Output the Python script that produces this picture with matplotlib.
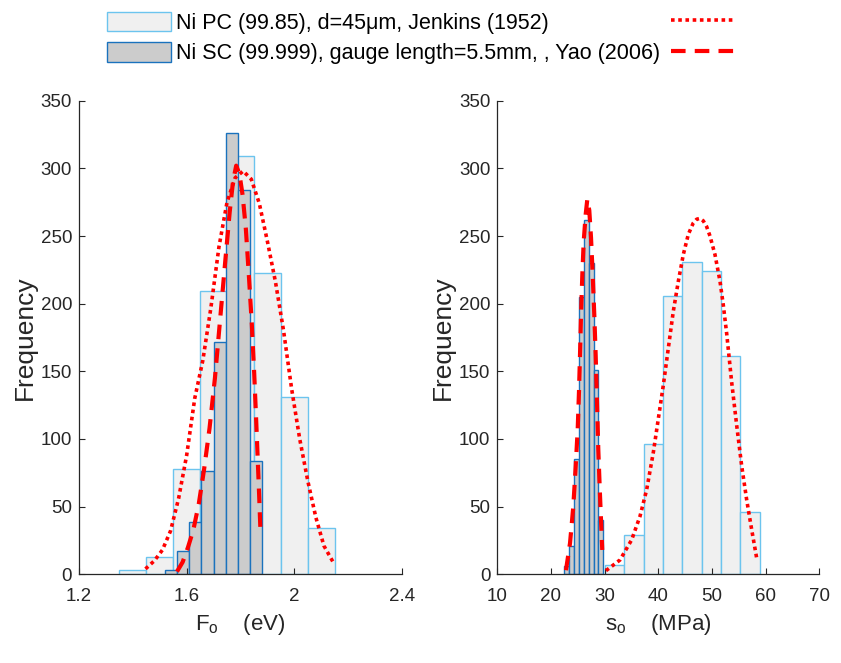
import numpy as np
import matplotlib
matplotlib.use('Agg')
import matplotlib.pyplot as plt

plt.rcParams['font.family'] = ['Liberation Sans', 'DejaVu Sans']
plt.rcParams['mathtext.fontset'] = 'custom'
plt.rcParams['mathtext.rm'] = 'Liberation Sans'
plt.rcParams['mathtext.it'] = 'Liberation Sans:italic'

# ---- data ----
# left panel: F_o (eV)
pc_F_edges = [1.35, 1.45, 1.55, 1.65, 1.75, 1.85, 1.95, 2.05, 2.15]
pc_F_counts = [3, 13, 78, 209, 309, 223, 131, 34]
sc_F_edges = [1.52, 1.565, 1.61, 1.655, 1.70, 1.745, 1.79, 1.835, 1.88]
sc_F_counts = [3, 17, 39, 76, 172, 326, 284, 84]

pc_F_fit_x = [1.447, 1.48, 1.51, 1.54, 1.57, 1.60, 1.63, 1.66, 1.69, 1.72, 1.75,
              1.78, 1.81, 1.84, 1.87, 1.90, 1.93, 1.96, 1.99, 2.02, 2.05, 2.08,
              2.11, 2.147]
pc_F_fit_y = [4, 10, 18, 32, 56, 88, 130, 158, 197, 242, 275,
              293, 298, 292, 274, 246, 216, 180, 137, 100, 69, 42,
              21, 8]
sc_F_fit_x = [1.564, 1.585, 1.605, 1.625, 1.645, 1.665, 1.685, 1.705, 1.725,
              1.745, 1.760, 1.772, 1.784, 1.796, 1.808, 1.820, 1.832, 1.842,
              1.851, 1.858, 1.864, 1.869, 1.874]
sc_F_fit_y = [2, 9, 20, 33, 52, 78, 108, 145, 190,
              235, 268, 290, 302, 296, 280, 255, 218, 185,
              148, 115, 85, 60, 33]

# right panel: s_o (MPa)
pc_s_edges = [30.1, 33.7, 37.3, 40.9, 44.5, 48.1, 51.7, 55.3, 58.9]
pc_s_counts = [7, 29, 96, 206, 231, 224, 161, 46]
sc_s_edges = [22.50, 23.41, 24.31, 25.22, 26.13, 27.03, 27.94, 28.85, 29.76]
sc_s_counts = [6, 21, 85, 205, 262, 230, 151, 40]

pc_s_fit_x = [30.25, 32.86, 35.04, 36.59, 37.84, 39.07, 40.0, 40.93, 41.86, 42.79,
              43.73, 44.66, 45.59, 46.5, 47.15, 47.75, 48.38, 49.0, 49.63, 50.56,
              51.50, 52.11, 52.74, 53.67, 54.61, 55.54, 56.47, 57.40, 58.33]
pc_s_fit_y = [2.7, 10.6, 25.5, 42.9, 62.7, 90, 114.8, 139.6, 166.9, 194.2,
              216.5, 236.3, 251.2, 259.5, 262.4, 263, 261.2, 257, 250, 236.3,
              216.5, 199, 178, 142, 110, 80, 55, 33, 12]
sc_s_fit_x = [22.80, 23.55, 24.16, 24.61, 24.98, 25.22, 25.41, 25.60, 25.84, 26.10,
              26.47, 26.77, 27.14, 27.46, 27.78, 28.07, 28.33, 28.58, 28.82, 29.14,
              29.45, 29.56]
sc_s_fit_y = [3, 23, 50, 80, 107, 135, 162, 192, 221, 246,
              266, 277, 269, 249, 221, 192, 162, 127, 92, 58,
              28, 18]

pc_label = 'Ni PC (99.85), d=45\u03bcm, Jenkins (1952)'
sc_label = 'Ni SC (99.999), gauge length=5.5mm, , Yao (2006)'

PC_FACE, PC_EDGE = '#f0f0f0', '#6cc4ee'
SC_FACE, SC_EDGE = '#cccccc', '#1a72bd'
AX_COL = '#262626'

fig = plt.figure(figsize=(8.41, 6.63), dpi=100)
ax1 = fig.add_axes([79 / 841, 1 - 574.3 / 663, (402 - 79) / 841, (574.3 - 100.7) / 663])
ax2 = fig.add_axes([497.3 / 841, 1 - 574.3 / 663, (819.3 - 497.3) / 841, (574.3 - 100.7) / 663])


def draw_hist(ax, edges, counts, face, edge):
    return ax.bar(edges[:-1], counts, width=np.diff(edges), align='edge',
                  color=face, edgecolor=edge, linewidth=1.0)


# left
b_pc = draw_hist(ax1, pc_F_edges, pc_F_counts, PC_FACE, PC_EDGE)
b_sc = draw_hist(ax1, sc_F_edges, sc_F_counts, SC_FACE, SC_EDGE)
l_pc, = ax1.plot(pc_F_fit_x, pc_F_fit_y, color='red', lw=2.6, dashes=(1, 1),
                 dash_capstyle='butt')
l_sc, = ax1.plot(sc_F_fit_x, sc_F_fit_y, color='red', lw=3.0, dashes=(3.5, 2.2),
                 dash_capstyle='butt')

# right
draw_hist(ax2, sc_s_edges, sc_s_counts, SC_FACE, SC_EDGE)
draw_hist(ax2, pc_s_edges, pc_s_counts, PC_FACE, PC_EDGE)
ax2.plot(sc_s_fit_x, sc_s_fit_y, color='red', lw=3.0, dashes=(3.5, 2.2),
         dash_capstyle='butt')
ax2.plot(pc_s_fit_x, pc_s_fit_y, color='red', lw=2.6, dashes=(1, 1),
         dash_capstyle='butt')

ax1.set_xlim(1.2, 2.4)
ax1.set_xticks([1.2, 1.6, 2.0, 2.4])
ax1.set_xticklabels(['1.2', '1.6', '2', '2.4'])
ax2.set_xlim(10, 70)
ax2.set_xticks(range(10, 71, 10))

for ax in (ax1, ax2):
    ax.set_ylim(0, 350)
    ax.set_yticks(range(0, 351, 50))
    for s in ('top', 'right'):
        ax.spines[s].set_visible(False)
    for s in ('left', 'bottom'):
        ax.spines[s].set_color(AX_COL)
        ax.spines[s].set_linewidth(0.9)
    ax.tick_params(direction='in', length=4, width=0.8, color=AX_COL,
                   labelcolor=AX_COL, labelsize=13.5)
    ax.tick_params(axis='x', pad=10)
    ax.tick_params(axis='y', pad=5)
    ax.set_ylabel('Frequency', fontsize=19, color=AX_COL, labelpad=3)

ax1.set_xlabel(r'F$_{\mathrm{o}}$    (eV)', fontsize=16, color=AX_COL, labelpad=5)
ax2.set_xlabel(r's$_{\mathrm{o}}$    (MPa)', fontsize=16, color=AX_COL, labelpad=5)

fig.legend(handles=[b_pc, b_sc, l_pc, l_sc], labels=[pc_label, sc_label, '', ''],
           ncol=2, loc='upper left', bbox_to_anchor=(106.7 / 841, 1 - 11.5 / 663),
           frameon=False, fontsize=15.5, handlelength=2.98, handleheight=1.05,
           handletextpad=0.23, columnspacing=0.5, labelspacing=0.38,
           borderpad=0, borderaxespad=0)

fig.savefig('out.png', dpi=100, facecolor='white')
